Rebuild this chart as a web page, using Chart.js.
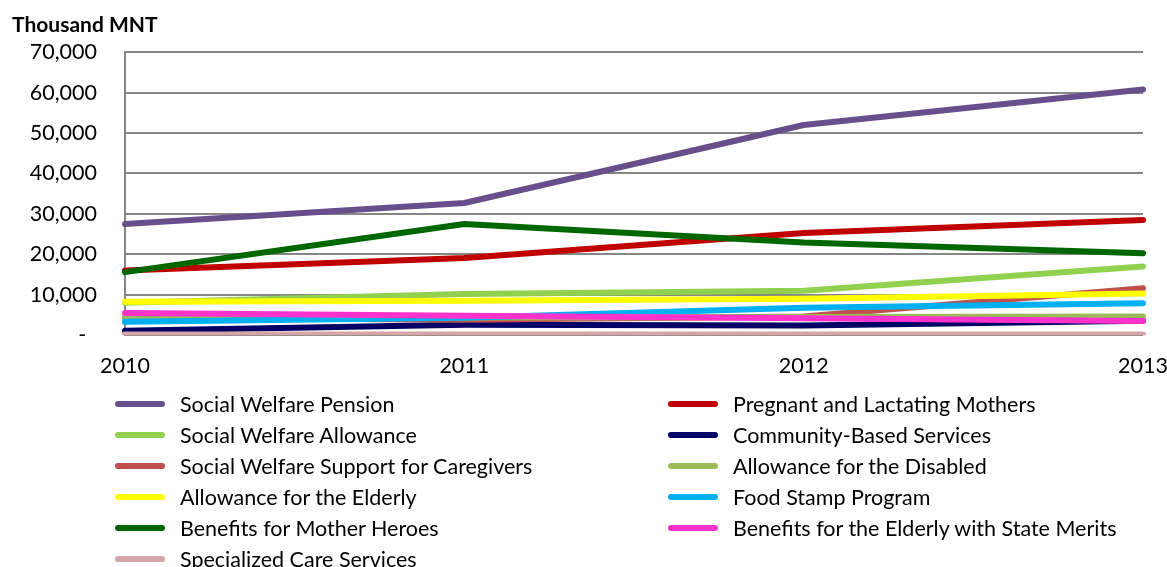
<!DOCTYPE html>
<html>
<head>
<meta charset="utf-8">
<script src="https://cdn.jsdelivr.net/npm/chart.js@4/dist/chart.umd.min.js"></script>
<style>
  body { margin: 0; background: #fff; font-family: Lato, sans-serif; }
  #wrap { position: relative; width: 1167px; height: 567px; }
  #chartBox { position: absolute; left: 0; top: 0; width: 1167px; height: 397px; }
  #legend { position: absolute; left: 115px; top: 388px; display: grid;
            grid-template-columns: 553px 450px; grid-auto-rows: 31px; }
  .item { display: flex; align-items: center; font-size: 21.5px; color: #000; white-space: nowrap; }
  .swatch { width: 50px; height: 6px; border-radius: 3px; margin-right: 15px; }
</style>
</head>
<body>
<div id="wrap">
  <div id="chartBox"><canvas id="chart"></canvas></div>
  <div id="legend"></div>
</div>
<script>
const years = ['2010', '2011', '2012', '2013'];

const seriesNames = [
  'Social Welfare Pension',
  'Pregnant and Lactating Mothers',
  'Social Welfare Allowance',
  'Community-Based Services',
  'Social Welfare Support for Caregivers',
  'Allowance for the Disabled',
  'Allowance for the Elderly',
  'Food Stamp Program',
  'Benefits for Mother Heroes',
  'Benefits for the Elderly with State Merits',
  'Specialized Care Services'
];

// Thousand MNT
const welfarePension   = [27500, 32700, 52000, 60800];
const pregnantMothers  = [16000, 19100, 25300, 28500];
const welfareAllowance = [8000, 10200, 11000, 17000];
const communityBased   = [1100, 2600, 2400, 3600];
const caregivers       = [4400, 3800, 4600, 11600];
const disabled         = [4300, 4400, 4500, 4600];
const elderly          = [8300, 8500, 9000, 10300];
const foodStamp        = [3300, 4300, 6800, 7900];
const motherHeroes     = [15600, 27500, 22900, 20300];
const stateMerits      = [5500, 4800, 4200, 3500];
const specializedCare  = [150, 150, 150, 150];

const yTicks = [0, 10000, 20000, 30000, 40000, 50000, 60000, 70000];

const seriesData = [welfarePension, pregnantMothers, welfareAllowance, communityBased,
  caregivers, disabled, elderly, foodStamp, motherHeroes, stateMerits, specializedCare];
const colors = ['#684F8C', '#C00000', '#92D050', '#000066', '#C0504D', '#9BBB59',
  '#FFFF00', '#00B0F0', '#006600', '#FF33CC', '#D5A6A5'];

const datasets = seriesNames.map(function(name, i) {
  return {
    label: name,
    data: seriesData[i],
    borderColor: colors[i],
    backgroundColor: colors[i],
    borderWidth: 6,
    borderCapStyle: 'round',
    borderJoinStyle: 'round',
    pointRadius: 0,
    tension: 0,
    order: -i   // later series drawn on top, like the original
  };
});

const ctx = document.getElementById('chart').getContext('2d');
const chart = new Chart(ctx, {
  type: 'line',
  data: { labels: years, datasets: datasets },
  options: {
    responsive: true,
    maintainAspectRatio: false,
    animation: false,
    layout: { padding: { left: 12, right: 0, top: 0, bottom: 0 } },
    plugins: {
      legend: { display: false },
      tooltip: { enabled: false },
      title: {
        display: true,
        text: 'Thousand MNT',
        align: 'start',
        color: '#000',
        font: { family: 'Lato, sans-serif', size: 21, weight: 'bold' },
        padding: { top: 13, bottom: 14 }
      }
    },
    scales: {
      x: {
        offset: false,
        grid: { display: false, drawTicks: false },
        border: { display: false },
        ticks: { color: '#000', font: { family: 'Lato, sans-serif', size: 21.5 }, padding: 18, maxRotation: 0 },
        afterFit: function(scale) { scale.paddingRight = 24; }
      },
      y: {
        min: 0,
        max: 70000,
        afterBuildTicks: function(axis) {
          axis.ticks = yTicks.map(function(v) { return { value: v }; });
        },
        afterFit: function(scale) { scale.width = 113; },
        grid: { color: '#868686', lineWidth: 2, drawTicks: false },
        border: { display: true, color: '#868686', width: 2 },
        ticks: {
          color: '#000',
          font: { family: 'Lato, sans-serif', size: 21.5 },
          padding: 28,
          callback: function(v) { return v === 0 ? '-\u2002' : v.toLocaleString('en-US'); }
        }
      }
    }
  }
});

// two-column legend built from the chart's datasets
const legendEl = document.getElementById('legend');
chart.data.datasets.forEach(function(ds) {
  const item = document.createElement('div');
  item.className = 'item';
  const sw = document.createElement('span');
  sw.className = 'swatch';
  sw.style.background = ds.borderColor;
  item.appendChild(sw);
  item.appendChild(document.createTextNode(ds.label));
  legendEl.appendChild(item);
});
</script>
</body>
</html>
